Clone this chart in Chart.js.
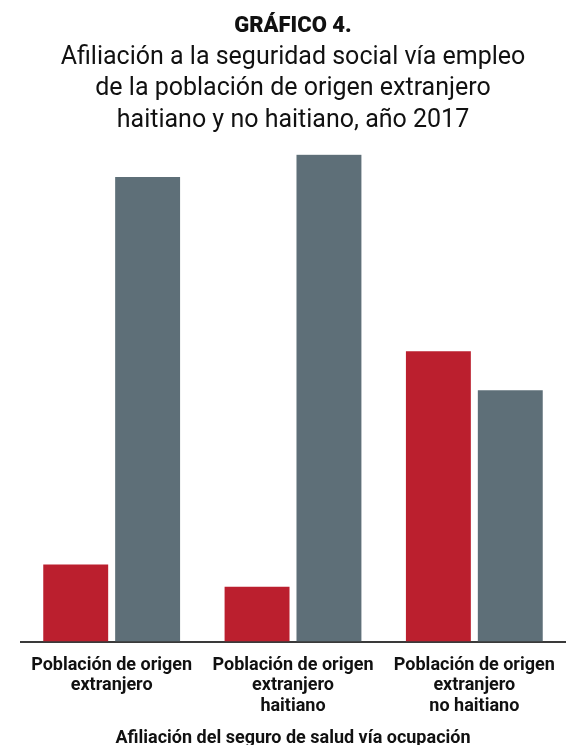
<!DOCTYPE html>
<html>
<head>
<meta charset="utf-8">
<script src="https://cdn.jsdelivr.net/npm/chart.js@4.4.1/dist/chart.umd.min.js"></script>
<style>
  html, body { margin: 0; padding: 0; background: #ffffff; }
  #wrap { width: 570px; height: 745px; position: relative; }
</style>
</head>
<body>
<div id="wrap"><canvas id="c" width="570" height="745"></canvas></div>
<script>
const categories = [
  ["Población de origen", "extranjero"],
  ["Población de origen", "extranjero", "haitiano"],
  ["Población de origen", "extranjero", "no haitiano"]
];
const seriesNames = ["No afiliado", "Afiliado"];
const seriesRed = [14.2, 10.1, 53.6];
const seriesGray = [85.8, 89.9, 46.4];
const titleText = "GRÁFICO 4.";
const subtitleLines = [
  "Afiliación a la seguridad social vía empleo",
  "de la población de origen extranjero",
  "haitiano y no haitiano, año 2017"
];
const xTitle = "Afiliación del seguro de salud vía ocupación";

const FONT = "Roboto, 'Noto Sans', sans-serif";

new Chart(document.getElementById('c'), {
  type: 'bar',
  data: {
    labels: categories,
    datasets: [
      { label: seriesNames[0], data: seriesRed, backgroundColor: '#BB1F2E' },
      { label: seriesNames[1], data: seriesGray, backgroundColor: '#5E6F78' }
    ]
  },
  options: {
    responsive: false,
    animation: false,
    devicePixelRatio: 1,
    layout: { padding: { left: 21, right: 5, top: 0, bottom: 0 } },
    datasets: { bar: { categoryPercentage: 0.793, barPercentage: 0.903 } },
    plugins: {
      legend: { display: false },
      tooltip: { enabled: false },
      title: {
        display: true,
        text: titleText,
        color: '#111111',
        font: { family: FONT, size: 22, weight: '900', lineHeight: 1.2 },
        padding: { top: 12.8, bottom: 2.5 }
      },
      subtitle: {
        display: true,
        text: subtitleLines,
        color: '#111111',
        font: { family: FONT, size: 25, weight: '400', lineHeight: 31.5 / 25 },
        padding: { top: 0, bottom: 18 }
      }
    },
    scales: {
      y: { display: false, min: 0, max: 90 },
      x: {
        grid: { display: false, drawTicks: false, tickLength: 0 },
        border: { display: true, color: '#3a3a3a', width: 2 },
        ticks: {
          color: '#111111',
          padding: 13.5,
          maxRotation: 0,
          autoSkip: false,
          font: { family: FONT, size: 18, weight: 'bold', lineHeight: 20.5 / 18 }
        },
        title: {
          display: true,
          text: xTitle,
          color: '#111111',
          font: { family: FONT, size: 18, weight: 'bold', lineHeight: 14 / 18 },
          padding: { top: 1, bottom: 0 }
        }
      }
    }
  }
});
</script>
</body>
</html>
